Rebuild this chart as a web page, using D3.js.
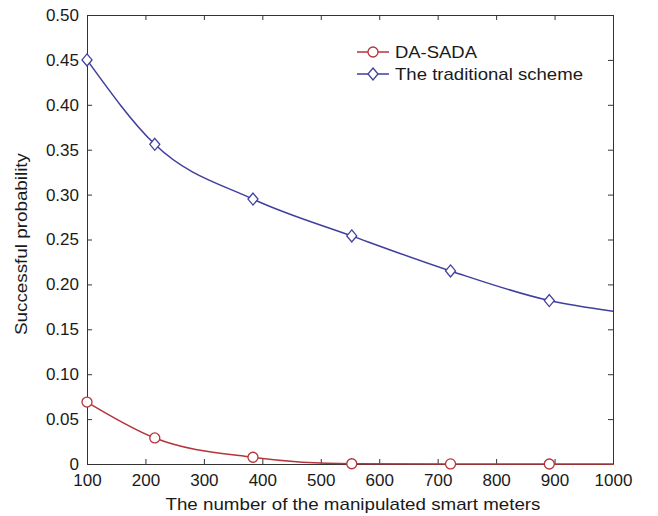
<!DOCTYPE html>
<html>
<head>
<meta charset="utf-8">
<script src="https://cdn.jsdelivr.net/npm/d3@7"></script>
<style>
  body { margin: 0; background: #fff; }
  svg text { font-family: "Liberation Sans", Arial, sans-serif; fill: #1a1a1a; }
  .axis path, .axis line { stroke: #333; }
</style>
</head>
<body>
<div id="chart"></div>
<script>
// data
var meters = [100, 216, 384, 553, 722, 891, 1000];
var daSada = [0.069, 0.029, 0.0075, 0.0003, 0.0001, 0.0, 0.0];
var traditional = [0.450, 0.356, 0.295, 0.254, 0.215, 0.182, 0.170];
var markerCount = 6; // last point (1000) has no marker
var xTicks = [100, 200, 300, 400, 500, 600, 700, 800, 900, 1000];
var yTicks = [0, 0.05, 0.10, 0.15, 0.20, 0.25, 0.30, 0.35, 0.40, 0.45, 0.50];

var width = 658, height = 516;
var margin = { top: 15, right: 45, bottom: 52, left: 87 };
var w = width - margin.left - margin.right,
    h = height - margin.top - margin.bottom;

var svg = d3.select("#chart").append("svg")
    .attr("width", width)
    .attr("height", height);

var g = svg.append("g")
    .attr("transform", "translate(" + margin.left + "," + margin.top + ")");

var x = d3.scaleLinear().domain([100, 1000]).range([0, w]);
var y = d3.scaleLinear().domain([0, 0.5]).range([h, 0]);

var yFmt = function(d) { return d === 0 ? "0" : d3.format(".2f")(d); };

// bottom + left axes with inward ticks
g.append("g")
    .attr("class", "axis")
    .attr("transform", "translate(0," + h + ")")
    .call(d3.axisBottom(x).tickValues(xTicks).tickFormat(d3.format("d")).tickSizeInner(-5).tickSizeOuter(0).tickPadding(10))
    .call(function(s) { s.selectAll("text").style("font-size", "17px"); });

g.append("g")
    .attr("class", "axis")
    .call(d3.axisLeft(y).tickValues(yTicks).tickFormat(yFmt).tickSizeInner(-5).tickSizeOuter(0).tickPadding(8))
    .call(function(s) { s.selectAll("text").style("font-size", "17px"); });

// top + right axes, no labels
g.append("g")
    .attr("class", "axis")
    .call(d3.axisTop(x).tickValues(xTicks).tickSizeInner(-5).tickSizeOuter(0).tickFormat(""));

g.append("g")
    .attr("class", "axis")
    .attr("transform", "translate(" + w + ",0)")
    .call(d3.axisRight(y).tickValues(yTicks).tickSizeInner(-5).tickSizeOuter(0).tickFormat(""));

var series = [
    { name: "DA-SADA", values: daSada, color: "#b5343b", shape: "circle", len: 82 },
    { name: "The traditional scheme", values: traditional, color: "#3f3f9f", shape: "diamond", len: 188 }
];

var line = d3.line()
    .x(function(d) { return x(d[0]); })
    .y(function(d) { return y(d[1]); })
    .curve(d3.curveMonotoneX);

function drawMarker(sel, shape, color) {
    if (shape === "circle") {
        sel.append("circle").attr("r", 5);
    } else {
        sel.append("path").attr("d", "M0,-6L5,0L0,6L-5,0Z");
    }
    sel.selectAll("circle,path")
        .attr("fill", "#fff")
        .attr("stroke", color)
        .attr("stroke-width", 1.3);
}

series.forEach(function(s) {
    var pts = meters.map(function(m, i) { return [m, s.values[i]]; });
    g.append("path")
        .datum(pts)
        .attr("fill", "none")
        .attr("stroke", s.color)
        .attr("stroke-width", 1.5)
        .attr("d", line);

    g.selectAll(".m-" + s.shape)
        .data(pts.slice(0, markerCount))
        .enter().append("g")
        .attr("class", "m-" + s.shape)
        .attr("transform", function(d) { return "translate(" + x(d[0]) + "," + y(d[1]) + ")"; })
        .each(function() { drawMarker(d3.select(this), s.shape, s.color); });
});

// legend
var legend = g.append("g").attr("transform", "translate(270,37)");
series.forEach(function(s, i) {
    var row = legend.append("g").attr("transform", "translate(0," + (i * 22) + ")");
    row.append("line")
        .attr("x1", 0).attr("x2", 32)
        .attr("stroke", s.color).attr("stroke-width", 1.5);
    var m = row.append("g").attr("transform", "translate(16,0)");
    drawMarker(m, s.shape, s.color);
    row.append("text")
        .attr("x", 38).attr("dy", "0.35em")
        .attr("textLength", s.len)
        .attr("lengthAdjust", "spacingAndGlyphs")
        .style("font-size", "17px")
        .text(s.name);
});

// axis titles
svg.append("text")
    .attr("x", margin.left + w / 2 + 3)
    .attr("y", 510)
    .attr("text-anchor", "middle")
    .attr("textLength", 375)
    .attr("lengthAdjust", "spacingAndGlyphs")
    .style("font-size", "17px")
    .text("The number of the manipulated smart meters");

svg.append("text")
    .attr("transform", "translate(27," + 244 + ") rotate(-90)")
    .attr("text-anchor", "middle")
    .attr("textLength", 182)
    .attr("lengthAdjust", "spacingAndGlyphs")
    .style("font-size", "17px")
    .text("Successful probability");
</script>
</body>
</html>
